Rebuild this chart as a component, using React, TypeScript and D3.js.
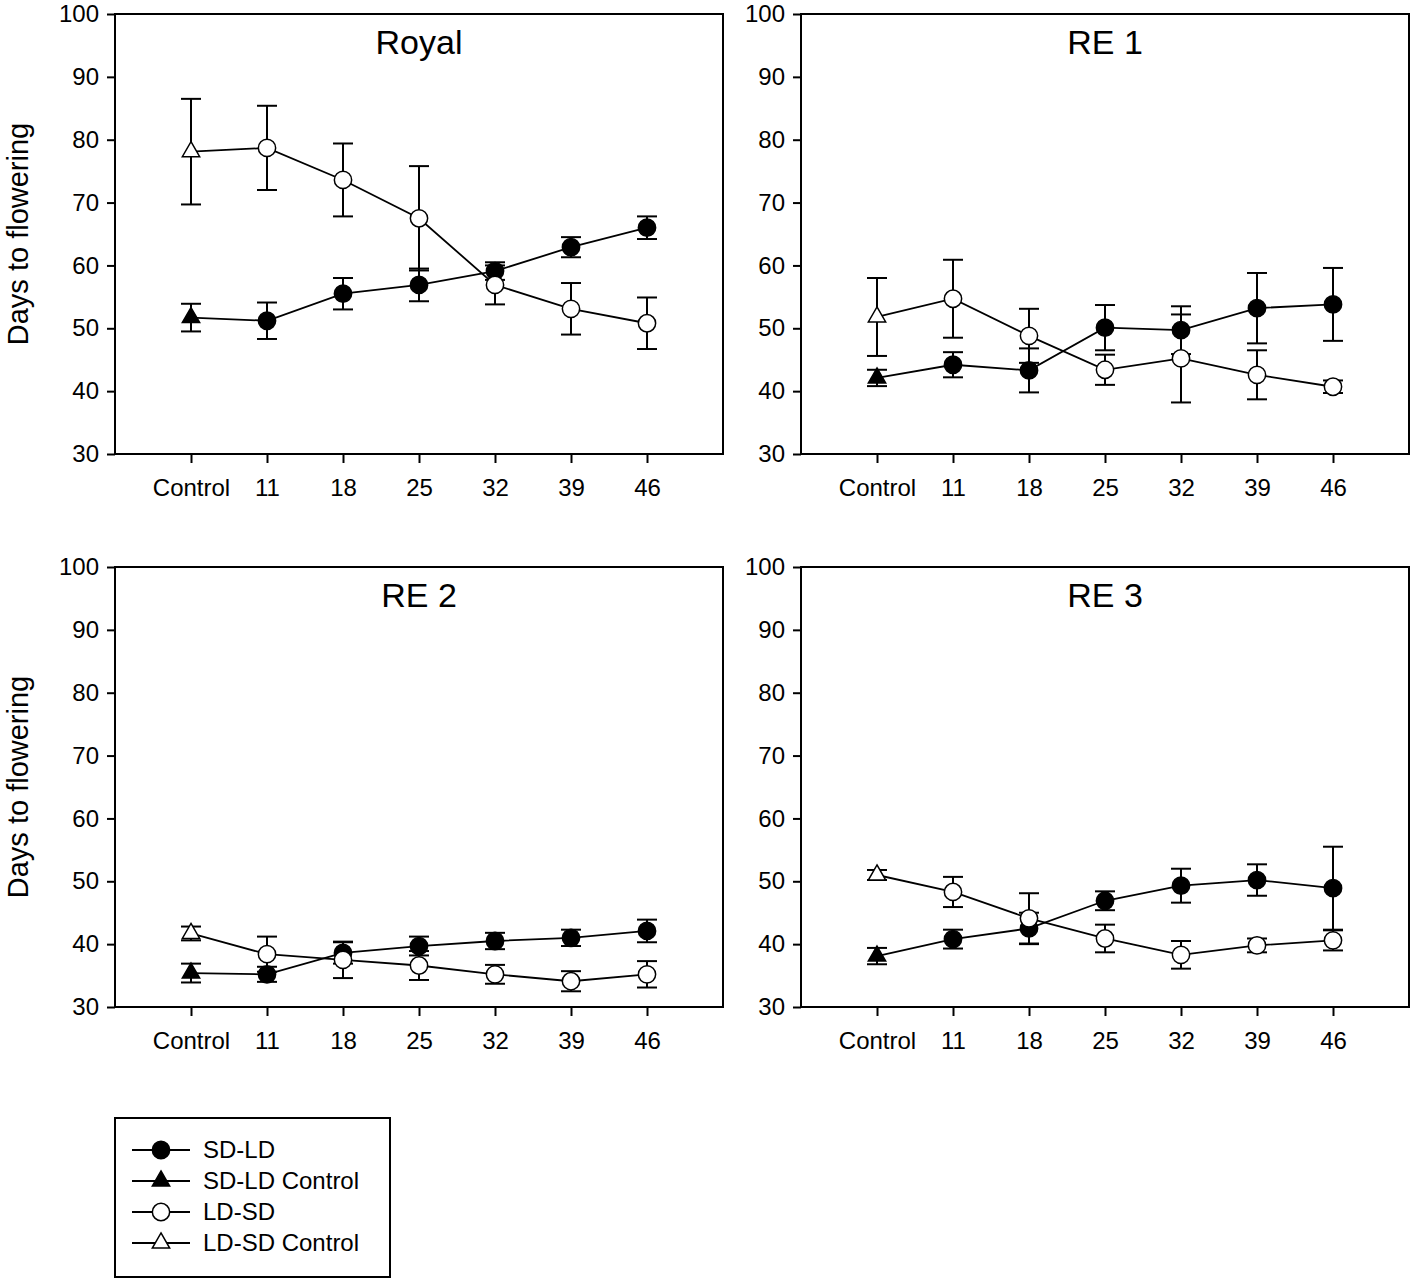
import React, { useRef, useEffect } from "react";
import * as d3 from "d3";

const width = 1418;
const height = 1282;
const font = "'Liberation Sans', Arial, sans-serif";

// x categories and y ticks
const categories = ["Control", "11", "18", "25", "32", "39", "46"];
const yTicks = [30, 40, 50, 60, 70, 80, 90, 100];
const panelTitles = ["Royal", "RE 1", "RE 2", "RE 3"];

// means and error bars (index 0 is the control point, drawn as a triangle)
const royalSDLD = [51.7, 51.2, 55.5, 56.9, 59.1, 62.9, 66.0];
const royalSDLDErr = [2.2, 2.9, 2.5, 2.6, 1.4, 1.6, 1.8];
const royalLDSD = [78.1, 78.7, 73.6, 67.5, 56.9, 53.1, 50.8];
const royalLDSDErr = [8.4, 6.7, 5.8, 8.3, 3.1, 4.1, 4.1];

const re1SDLD = [42.1, 44.2, 43.3, 50.1, 49.7, 53.2, 53.8];
const re1SDLDErr = [1.3, 2.0, 3.5, 3.6, 3.8, 5.6, 5.8];
const re1LDSD = [51.8, 54.7, 48.8, 43.4, 45.2, 42.6, 40.7];
const re1LDSDErr = [6.2, 6.2, 4.3, 2.4, 7.0, 3.9, 1.0];

const re2SDLD = [35.4, 35.2, 38.6, 39.7, 40.5, 41.0, 42.1];
const re2SDLDErr = [1.5, 1.2, 1.7, 1.5, 1.3, 1.3, 1.8];
const re2LDSD = [41.7, 38.4, 37.5, 36.6, 35.2, 34.1, 35.2];
const re2LDSDErr = [1.1, 2.8, 2.9, 2.3, 1.5, 1.6, 2.1];

const re3SDLD = [38.1, 40.8, 42.5, 46.9, 49.3, 50.2, 48.9];
const re3SDLDErr = [1.3, 1.5, 2.5, 1.5, 2.7, 2.5, 6.6];
const re3LDSD = [51.0, 48.3, 44.1, 40.9, 38.3, 39.8, 40.6];
const re3LDSDErr = [0.8, 2.4, 4.0, 2.2, 2.2, 1.1, 1.6];

const legendLabels = ["SD-LD", "SD-LD Control", "LD-SD", "LD-SD Control"];

const panelBoxes = [
  { x: 115, y: 14 },
  { x: 801, y: 14 },
  { x: 115, y: 567 },
  { x: 801, y: 567 },
];
const pw = 608;
const ph = 440;

const panelData = [
  { sd: royalSDLD, sdErr: royalSDLDErr, ld: royalLDSD, ldErr: royalLDSDErr },
  { sd: re1SDLD, sdErr: re1SDLDErr, ld: re1LDSD, ldErr: re1LDSDErr },
  { sd: re2SDLD, sdErr: re2SDLDErr, ld: re2LDSD, ldErr: re2LDSDErr },
  { sd: re3SDLD, sdErr: re3SDLDErr, ld: re3LDSD, ldErr: re3LDSDErr },
];

const circle = d3.symbol().type(d3.symbolCircle).size(235);
const triangle = d3.symbol().type(d3.symbolTriangle).size(130);

const drawMarker = (g, x, y, filled, tri) => {
  g.append("path")
    .attr("d", tri ? triangle() : circle())
    .attr("transform", `translate(${x},${y})`)
    .attr("fill", filled ? "#000" : "#fff")
    .attr("stroke", "#000")
    .attr("stroke-width", 1.5);
};

const App = () => {
  const ref = useRef(null);
  useEffect(() => {
    const svg = d3.select(ref.current);
    svg.selectAll("*").remove();

    panelBoxes.forEach((box, p) => {
      const x = d3.scaleLinear().domain([-1, 7]).range([box.x, box.x + pw]);
      const y = d3.scaleLinear().domain([30, 100]).range([box.y + ph, box.y]);
      const g = svg.append("g");

      g.append("rect")
        .attr("x", box.x)
        .attr("y", box.y)
        .attr("width", pw)
        .attr("height", ph)
        .attr("fill", "none")
        .attr("stroke", "#000")
        .attr("stroke-width", 2);

      const yAxis = d3.axisLeft(y).tickValues(yTicks).tickSize(8).tickPadding(8);
      const ya = g.append("g").attr("transform", `translate(${box.x},0)`).call(yAxis);
      const xAxis = d3
        .axisBottom(x)
        .tickValues(d3.range(categories.length))
        .tickFormat((i) => categories[i])
        .tickSize(9)
        .tickPadding(16);
      const xa = g.append("g").attr("transform", `translate(0,${box.y + ph})`).call(xAxis);
      [ya, xa].forEach((a) => {
        a.select(".domain").remove();
        a.selectAll("line").attr("stroke", "#000").attr("stroke-width", 2);
        a.selectAll("text")
          .attr("font-family", font)
          .attr("font-size", 24)
          .attr("fill", "#000");
      });

      g.append("text")
        .attr("x", box.x + pw / 2)
        .attr("y", box.y + 40)
        .attr("text-anchor", "middle")
        .attr("font-family", font)
        .attr("font-size", 34)
        .text(panelTitles[p]);

      const d = panelData[p];
      const series = [
        { v: d.sd, e: d.sdErr, filled: true },
        { v: d.ld, e: d.ldErr, filled: false },
      ];
      // error bars
      series.forEach((s) => {
        s.v.forEach((v, i) => {
          const cx = x(i);
          g.append("line")
            .attr("x1", cx).attr("x2", cx)
            .attr("y1", y(v - s.e[i])).attr("y2", y(v + s.e[i]))
            .attr("stroke", "#000").attr("stroke-width", 2);
          [v - s.e[i], v + s.e[i]].forEach((c) => {
            g.append("line")
              .attr("x1", cx - 10).attr("x2", cx + 10)
              .attr("y1", y(c)).attr("y2", y(c))
              .attr("stroke", "#000").attr("stroke-width", 2);
          });
        });
      });
      const line = d3.line().x((v, i) => x(i)).y((v) => y(v));
      series.forEach((s) => {
        g.append("path")
          .attr("d", line(s.v))
          .attr("fill", "none")
          .attr("stroke", "#000")
          .attr("stroke-width", 1.8);
      });
      series.forEach((s) => {
        s.v.forEach((v, i) => drawMarker(g, x(i), y(v), s.filled, i === 0));
      });
    });

    // y axis titles
    [234, 787].forEach((cy) => {
      svg.append("text")
        .attr("transform", `translate(28,${cy}) rotate(-90)`)
        .attr("text-anchor", "middle")
        .attr("font-family", font)
        .attr("font-size", 29)
        .text("Days to flowering");
    });

    // legend
    const lg = svg.append("g");
    lg.append("rect")
      .attr("x", 115).attr("y", 1118).attr("width", 275).attr("height", 159)
      .attr("fill", "#fff").attr("stroke", "#000").attr("stroke-width", 2);
    const legendY = d3.scalePoint().domain(legendLabels).range([1150, 1243]);
    legendLabels.forEach((lab, i) => {
      const ly = legendY(lab);
      lg.append("line")
        .attr("x1", 132).attr("x2", 190).attr("y1", ly).attr("y2", ly)
        .attr("stroke", "#000").attr("stroke-width", 1.8);
      drawMarker(lg, 161, ly, i < 2, i % 2 === 1);
      lg.append("text")
        .attr("x", 203).attr("y", ly + 8)
        .attr("font-family", font)
        .attr("font-size", 24)
        .text(lab);
    });
  }, []);

  return (
    <svg
      ref={ref}
      width={width}
      height={height}
      style={{ position: "absolute", left: 0, top: 0, background: "#fff" }}
    />
  );
};

export default App;
